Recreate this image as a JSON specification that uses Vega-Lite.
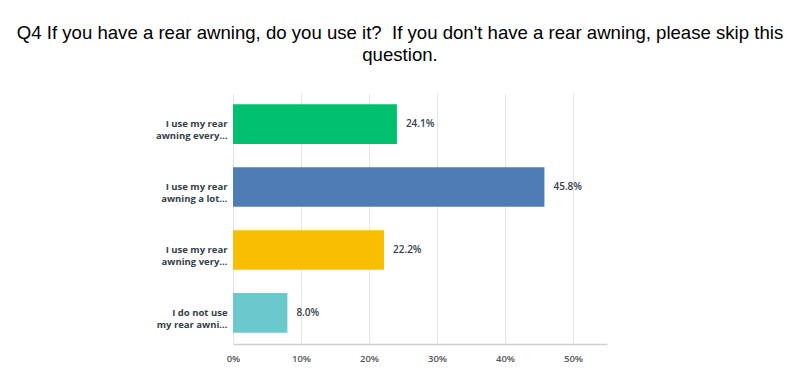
{
  "$schema": "https://vega.github.io/schema/vega-lite/v6.json",
  "autosize": "none",
  "width": 374,
  "height": 251,
  "padding": {"left": 233, "top": 93, "right": 193, "bottom": 41},
  "background": "white",
  "title": {
    "text": ["Q4 If you have a rear awning, do you use it?\u00a0 If you don't have a rear awning, please skip this", "question."],
    "font": "Liberation Sans",
    "fontSize": 18.6,
    "fontWeight": "normal",
    "color": "#000000",
    "anchor": "middle",
    "frame": "group",
    "dx": -20,
    "offset": 28,
    "lineHeight": 22
  },
  "data": {
    "values": [
      {"answer": "I use my rear|awning every…", "pct": 24.1, "label": "24.1%", "order": 1},
      {"answer": "I use my rear|awning a lot…", "pct": 45.8, "label": "45.8%", "order": 2},
      {"answer": "I use my rear|awning very…", "pct": 22.2, "label": "22.2%", "order": 3},
      {"answer": "I do not use|my rear awni…", "pct": 8.0, "label": "8.0%", "order": 4}
    ]
  },
  "encoding": {
    "y": {
      "field": "answer",
      "type": "nominal",
      "sort": {"field": "order"},
      "scale": {"paddingInner": 0.37, "paddingOuter": 0.18},
      "axis": {
        "title": null,
        "domain": false,
        "ticks": false,
        "labelExpr": "split(datum.label, '|')",
        "labelFont": "Open Sans",
        "labelFontSize": 9.5,
        "labelFontWeight": "bold",
        "labelColor": "#333e48",
        "labelPadding": 6,
        "labelLineHeight": 12,
        "labelLimit": 200
      }
    },
    "x": {
      "field": "pct",
      "type": "quantitative",
      "scale": {"domain": [0, 55], "nice": false},
      "axis": {
        "title": null,
        "values": [0, 10, 20, 30, 40, 50],
        "labelExpr": "datum.value + '%'",
        "grid": true,
        "gridColor": "#e6e6e6",
        "domainColor": "#d0d0d0",
        "domainWidth": 1.5,
        "ticks": false,
        "labelFont": "Open Sans",
        "labelFontSize": 9.5,
        "labelFontWeight": 600,
        "labelColor": "#555555",
        "labelPadding": 9,
        "labelAlign": "center"
      }
    }
  },
  "layer": [
    {
      "mark": {"type": "bar"},
      "encoding": {
        "color": {
          "field": "answer",
          "type": "nominal",
          "sort": {"field": "order"},
          "scale": {"range": ["#00bf6f", "#507cb6", "#f9be00", "#6bc8cd"]},
          "legend": null
        }
      }
    },
    {
      "mark": {"type": "text", "align": "left", "dx": 9, "font": "Open Sans", "fontSize": 10, "fontWeight": 600, "color": "#333e48"},
      "encoding": {"text": {"field": "label"}}
    }
  ],
  "config": {"view": {"stroke": null}}
}
